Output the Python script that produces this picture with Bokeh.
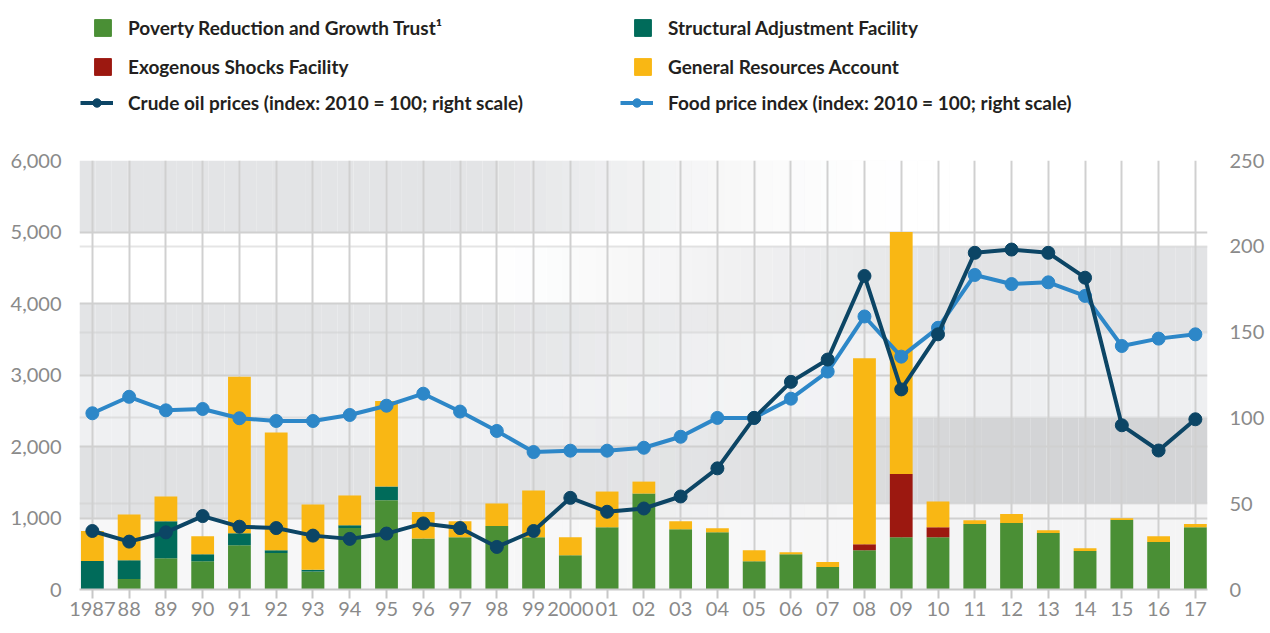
import numpy as np
from bokeh.plotting import figure
from bokeh.layouts import column
from bokeh.models import (Range1d, LinearAxis, FixedTicker, NumeralTickFormatter,
                          Legend, LegendItem, Grid, ColumnDataSource)
from bokeh.embed import file_html
from bokeh.resources import INLINE

# ---------------- data ----------------
years = list(range(1987, 2018))
year_labels = ["1987", "88", "89", "90", "91", "92", "93", "94", "95", "96", "97", "98", "99",
               "2000", "01", "02", "03", "04", "05", "06", "07", "08", "09", "10", "11", "12",
               "13", "14", "15", "16", "17"]

prgt = [0, 146, 438, 396, 619, 512, 253, 860, 1250, 712, 730, 888, 730, 480, 869, 1342,
        842, 800, 396, 494, 313, 549, 730, 730, 916, 930, 791, 540, 971, 665, 869]
saf = [400, 264, 515, 98, 167, 37, 23, 37, 190, 0, 0, 0, 0, 0, 0, 0,
       0, 0, 0, 0, 0, 0, 0, 0, 0, 0, 0, 0, 0, 0, 0]
esf = [0, 0, 0, 0, 0, 0, 0, 0, 0, 0, 0, 0, 0, 0, 0, 0,
       0, 0, 0, 0, 0, 84, 886, 139, 0, 0, 0, 0, 0, 0, 0]
gra = [418, 640, 348, 250, 2189, 1647, 913, 418, 1196, 371, 223, 315, 654, 250, 501, 167,
       111, 56, 153, 28, 70, 2601, 3385, 362, 51, 125, 37, 37, 24, 79, 47]
oil = [34.1, 27.9, 33.3, 42.8, 36.6, 35.8, 31.4, 29.5, 32.6, 38.5, 35.8, 24.8, 34.1, 53.4,
       45.3, 47.2, 54.2, 70.6, 100.0, 121.0, 134.0, 182.7, 116.6, 148.7, 196.2, 198.1,
       196.2, 181.7, 95.7, 81.0, 99.2]
food = [102.7, 112.3, 104.4, 105.2, 99.8, 98.2, 98.2, 101.7, 107.1, 114.1, 103.7, 92.4,
        80.1, 80.9, 80.9, 82.6, 89.0, 100.0, 100.0, 111.2, 127.0, 159.1, 135.7, 152.5,
        183.3, 178.0, 179.0, 171.1, 141.9, 146.2, 148.7]

left_ticks = [0, 1000, 2000, 3000, 4000, 5000, 6000]
right_ticks = [0, 50, 100, 150, 200, 250]

series_names = ["Poverty Reduction and Growth Trust\u00b9", "Structural Adjustment Facility",
                "Exogenous Shocks Facility", "General Resources Account"]
oil_name = "Crude oil prices (index: 2010 = 100; right scale)"
food_name = "Food price index (index: 2010 = 100; right scale)"

# ---------------- styles ----------------
C_PRGT, C_SAF, C_ESF, C_GRA = "#4a8f35", "#006b5a", "#9c1810", "#f9b714"
C_OIL, C_FOOD = "#0c4565", "#2d87c8"
TICK_COLOR = "#8a8a8a"
GRID_COLOR = "#d0d0d0"
FONT = "Lato"

W = 1262
LEG_H = 146
TOP_PAD = 14
FRAME_H = 429
LEFT = 79
x0, x1 = years[0] - 0.35, years[-1] + 0.33
lmax, rmax = left_ticks[-1], right_ticks[-1]

# ---------------- legend figure (top strip) ----------------
lf = figure(width=W, height=LEG_H, x_range=Range1d(0, 1), y_range=Range1d(0, 1),
            min_border=0, output_backend="svg", toolbar_location=None)
lf.axis.visible = False
lf.grid.visible = False
lf.outline_line_color = None
lf.background_fill_color = "white"
lf.border_fill_color = "white"

dummy = ColumnDataSource(dict(x=[-10.0], y=[-10.0]))
r_prgt = lf.vbar(x="x", top="y", width=0.1, color=C_PRGT, source=dummy)
r_saf = lf.vbar(x="x", top="y", width=0.1, color=C_SAF, source=dummy)
r_esf = lf.vbar(x="x", top="y", width=0.1, color=C_ESF, source=dummy)
r_gra = lf.vbar(x="x", top="y", width=0.1, color=C_GRA, source=dummy)
r_oil_l = lf.line(x="x", y="y", line_color=C_OIL, line_width=4, source=dummy)
r_oil_s = lf.scatter(x="x", y="y", size=12, color=C_OIL, source=dummy)
r_food_l = lf.line(x="x", y="y", line_color=C_FOOD, line_width=4, source=dummy)
r_food_s = lf.scatter(x="x", y="y", size=12, color=C_FOOD, source=dummy)

ITEM_H = 23  # effective legend row height (label height)
SPACING = 16


def make_legend(items, left, bottom, gw):
    # left/bottom given in page px; converted to the legend figure's frame
    return Legend(items=items, location=(left - LEFT, LEG_H - bottom),
                  orientation="vertical",
                  glyph_width=gw, glyph_height=21, spacing=SPACING, padding=0, margin=0,
                  label_standoff=15, border_line_color=None, background_fill_alpha=0,
                  label_text_font=FONT, label_text_font_style="bold",
                  label_text_font_size="19px", label_text_color="#231f20")


leg_a = make_legend([LegendItem(label=series_names[0], renderers=[r_prgt]),
                     LegendItem(label=series_names[2], renderers=[r_esf])], 92, 66 + ITEM_H / 2, 21)
leg_b = make_legend([LegendItem(label=series_names[1], renderers=[r_saf]),
                     LegendItem(label=series_names[3], renderers=[r_gra])], 632, 66 + ITEM_H / 2, 21)
leg_c = make_legend([LegendItem(label=oil_name, renderers=[r_oil_l, r_oil_s])],
                    80, 102 + ITEM_H / 2, 33)
leg_d = make_legend([LegendItem(label=food_name, renderers=[r_food_l, r_food_s])],
                    620, 102 + ITEM_H / 2, 33)
for lg in [leg_a, leg_b, leg_c, leg_d]:
    lf.add_layout(lg, "center")

# ---------------- main chart ----------------
p = figure(frame_width=1128, frame_height=FRAME_H, width=W, height=625 - LEG_H,
           min_border_left=LEFT, min_border_right=55, min_border_top=TOP_PAD,
           min_border_bottom=36,
           x_range=Range1d(x0, x1), y_range=Range1d(0, lmax),
           output_backend="svg", toolbar_location=None)
p.extra_y_ranges = {"right": Range1d(0, rmax)}
p.outline_line_color = None
p.background_fill_color = "white"
p.border_fill_color = "white"

# background bands (decoration)
left_band_colors = ["#f7f7f8", "#e0e1e3", "#eff0f2", "#e3e4e6", "#ffffff", "#e3e4e6"]
right_band_colors = ["#f4f4f5", "#d3d4d6", "#eeeff1", "#e2e3e5", "#ffffff"]
ratio = lmax / rmax
edges = np.linspace(x0, x1, 71)
lefts, rights, bottoms, tops, colors, alphas = [], [], [], [], [], []
for a, b in zip(edges[:-1], edges[1:]):
    xc = 0.5 * (a + b)
    wl = float(np.clip((2011.0 - xc) / 13.0, 0.0, 1.0))
    wr = 1.0 - wl
    for i, c in enumerate(left_band_colors):
        lefts.append(a); rights.append(b)
        bottoms.append(left_ticks[i]); tops.append(left_ticks[i + 1])
        colors.append(c); alphas.append(wl)
    for i, c in enumerate(right_band_colors):
        lefts.append(a); rights.append(b)
        bottoms.append(right_ticks[i] * ratio); tops.append(right_ticks[i + 1] * ratio)
        colors.append(c); alphas.append(wr)
bsrc = ColumnDataSource(dict(left=lefts, right=rights, bottom=bottoms, top=tops,
                             color=colors, alpha=alphas))
p.quad(left="left", right="right", bottom="bottom", top="top", fill_color="color",
       fill_alpha="alpha", line_color=None, source=bsrc, level="image")

# grids
p.xgrid.ticker = FixedTicker(ticks=years)
p.xgrid.grid_line_color = GRID_COLOR
p.xgrid.grid_line_width = 2
p.ygrid.ticker = FixedTicker(ticks=left_ticks)
p.ygrid.grid_line_color = GRID_COLOR
p.ygrid.grid_line_width = 2
rgrid = Grid(dimension=1, ticker=FixedTicker(ticks=right_ticks), y_range_name="right",
             grid_line_color=GRID_COLOR, grid_line_width=2, grid_line_alpha=0.55)
p.add_layout(rgrid)

# bars
src = ColumnDataSource(dict(year=years, prgt=prgt, saf=saf, esf=esf, gra=gra,
                            oil=oil, food=food))
bars = p.vbar_stack(["prgt", "saf", "esf", "gra"], x="year", width=0.62, source=src,
                    color=[C_PRGT, C_SAF, C_ESF, C_GRA], line_color=None)

# lines
p.line("year", "food", source=src, y_range_name="right", line_color=C_FOOD, line_width=4)
p.scatter("year", "food", source=src, y_range_name="right", size=13,
          fill_color=C_FOOD, line_color=C_FOOD)
p.line("year", "oil", source=src, y_range_name="right", line_color=C_OIL, line_width=4)
p.scatter("year", "oil", source=src, y_range_name="right", size=13,
          fill_color=C_OIL, line_color=C_OIL)

# axes
p.xaxis.ticker = FixedTicker(ticks=years)
p.xaxis.major_label_overrides = {y: l for y, l in zip(years, year_labels)}
p.xaxis.axis_line_color = "#c8c8c8"
p.xaxis.axis_line_width = 2
p.xaxis.major_tick_line_color = "#c8c8c8"
p.xaxis.major_tick_line_width = 2
p.xaxis.major_tick_out = 9
p.xaxis.major_tick_in = 0
p.xaxis.minor_tick_line_color = None
p.xaxis.major_label_standoff = 3

p.yaxis.ticker = FixedTicker(ticks=left_ticks)
p.yaxis.formatter = NumeralTickFormatter(format="0,0")
p.yaxis.axis_line_color = None
p.yaxis.major_tick_line_color = None
p.yaxis.minor_tick_line_color = None
p.yaxis.major_label_standoff = 12

raxis = LinearAxis(y_range_name="right", ticker=FixedTicker(ticks=right_ticks),
                   axis_line_color=None, major_tick_line_color=None,
                   minor_tick_line_color=None, major_label_standoff=16)
p.add_layout(raxis, "right")

for ax in [p.xaxis[0], p.yaxis[0], raxis]:
    ax.major_label_text_font = FONT
    ax.major_label_text_font_size = "20px"
    ax.major_label_text_color = TICK_COLOR

layout = column(lf, p, spacing=0)
open("out.html", "w").write(file_html(layout, INLINE))
